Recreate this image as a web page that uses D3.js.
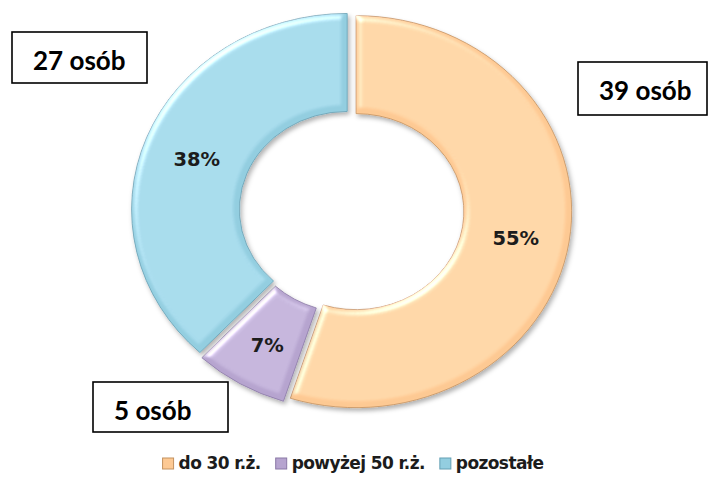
<!DOCTYPE html>
<html>
<head>
<meta charset="utf-8">
<script src="https://cdn.jsdelivr.net/npm/d3@7/dist/d3.min.js"></script>
<style>
  html, body { margin: 0; padding: 0; background: #fff; }
  svg { display: block; }
</style>
</head>
<body>
<div id="chart"></div>
<script>
// Respondents by age group
const categories = ["do 30 r.ż.", "powyżej 50 r.ż.", "pozostałe"];
const counts = [39, 5, 27];
const countLabels = ["39 osób", "5 osób", "27 osób"];
const colors = ["#FDC993", "#B6A4CF", "#93CEE0"];
const edgeColors = ["#C4925F", "#8A78A6", "#64A0B4"];

const W = 708, H = 486;
const cx = 351.5, cy = 211;
const stretchX = 1.1;          // plot area is wider than tall
const rOuter = 196, rInner = 98;
const explode = 4.2;

const svg = d3.select("#chart").append("svg")
  .attr("width", W).attr("height", H);

const defs = svg.append("defs");

// soft bevel + drop shadow for the ring segments
const f = defs.append("filter").attr("id", "bevel")
  .attr("x", "-10%").attr("y", "-10%").attr("width", "125%").attr("height", "125%");
f.append("feGaussianBlur").attr("in", "SourceAlpha").attr("stdDeviation", 3).attr("result", "blur");
const spec = f.append("feSpecularLighting").attr("in", "blur")
  .attr("surfaceScale", 3.5).attr("specularConstant", 0.8)
  .attr("specularExponent", 16).attr("lighting-color", "#ffffff").attr("result", "spec");
spec.append("feDistantLight").attr("azimuth", 235).attr("elevation", 35);
f.append("feComposite").attr("in", "spec").attr("in2", "SourceAlpha").attr("operator", "in").attr("result", "specIn");
f.append("feComposite").attr("in", "SourceGraphic").attr("in2", "specIn")
  .attr("operator", "arithmetic").attr("k1", 0).attr("k2", 1).attr("k3", 0.85).attr("k4", 0).attr("result", "lit");
f.append("feGaussianBlur").attr("in", "SourceAlpha").attr("stdDeviation", 2.2).attr("result", "sblur");
f.append("feOffset").attr("in", "sblur").attr("dx", 2).attr("dy", 3).attr("result", "soff");
f.append("feFlood").attr("flood-color", "#000").attr("flood-opacity", 0.3).attr("result", "scol");
f.append("feComposite").attr("in", "scol").attr("in2", "soff").attr("operator", "in").attr("result", "shadow");
const merge = f.append("feMerge");
merge.append("feMergeNode").attr("in", "shadow");
merge.append("feMergeNode").attr("in", "lit");

const pie = d3.pie().sort(null).value(d => d);
const arcs = pie(counts);
const total = d3.sum(counts);

const arc = d3.arc().innerRadius(rInner).outerRadius(rOuter);
const labelArc = d3.arc().innerRadius((rInner + rOuter) / 2).outerRadius((rInner + rOuter) / 2);

function offset(a) {
  const mid = (a.startAngle + a.endAngle) / 2;
  return [Math.sin(mid) * explode, -Math.cos(mid) * explode];
}

const ring = svg.append("g")
  .attr("transform", `translate(${cx},${cy}) scale(${stretchX},1)`);

ring.selectAll("path")
  .data(arcs)
  .join("path")
  .attr("transform", d => { const o = offset(d); return `translate(${o[0]},${o[1]})`; })
  .attr("d", arc)
  .attr("fill", (d, i) => colors[i])
  .attr("stroke", (d, i) => edgeColors[i])
  .attr("stroke-width", 0.8)
  .attr("vector-effect", "non-scaling-stroke")
  .attr("filter", "url(#bevel)");

// percentage labels in the middle of each segment
svg.append("g").selectAll("text")
  .data(arcs)
  .join("text")
  .attr("x", d => { const c = labelArc.centroid(d), o = offset(d); return cx + stretchX * (c[0] + o[0]); })
  .attr("y", d => { const c = labelArc.centroid(d), o = offset(d); return cy + c[1] + o[1] + 4; })
  .attr("dy", "0.36em")
  .attr("text-anchor", "middle")
  .attr("font-family", "DejaVu Sans, Verdana, sans-serif")
  .attr("font-weight", "bold")
  .attr("font-size", 19.5)
  .attr("fill", "#1c1c1c")
  .text(d => Math.round(d.data / total * 100) + "%");

// boxed head-count annotations
const boxes = [
  { i: 0, x: 578, y: 62, w: 129, h: 53 },
  { i: 1, x: 93, y: 382, w: 135, h: 50 },
  { i: 2, x: 12, y: 32, w: 135, h: 51 }
];
const boxG = svg.append("g").selectAll("g").data(boxes).join("g");
boxG.append("rect")
  .attr("x", d => d.x).attr("y", d => d.y)
  .attr("width", d => d.w).attr("height", d => d.h)
  .attr("fill", "#fff").attr("stroke", "#000").attr("stroke-width", 1.6);
boxG.append("text")
  .attr("x", d => d.x + 21).attr("y", d => d.y + 38)
  .attr("font-family", "Lato, 'Open Sans', sans-serif")
  .attr("font-weight", "bold")
  .attr("font-size", 26)
  .attr("fill", "#000")
  .text(d => countLabels[d.i]);

// legend
const legend = svg.append("g");
const items = legend.selectAll("g").data(categories).join("g");
items.append("rect")
  .attr("width", 11).attr("height", 11)
  .attr("y", -11)
  .attr("fill", (d, i) => colors[i])
  .attr("stroke", (d, i) => edgeColors[i])
  .attr("stroke-width", 1);
items.append("text")
  .attr("x", 16).attr("y", 0)
  .attr("font-family", "DejaVu Sans, Verdana, sans-serif")
  .attr("font-weight", "bold")
  .attr("font-size", 17)
  .attr("letter-spacing", -0.6)
  .attr("fill", "#1c1c1c")
  .text(d => d);
let xPos = 0;
const gap = 15;
items.each(function () {
  const tw = d3.select(this).select("text").node().getComputedTextLength();
  d3.select(this).attr("transform", `translate(${xPos},0)`);
  xPos += 16 + tw + gap;
});
xPos -= gap;
legend.attr("transform", `translate(${353 - xPos / 2},469)`);
</script>
</body>
</html>
